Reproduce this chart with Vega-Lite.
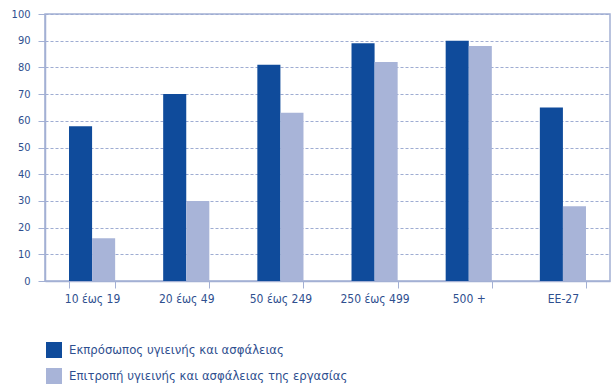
{
  "$schema": "https://vega.github.io/schema/vega-lite/v6.json",
  "width": 565,
  "height": 267,
  "autosize": {"type": "none"},
  "padding": {"left": 45, "top": 14, "right": 3, "bottom": 110},
  "background": "#ffffff",
  "config": {
    "view": {"stroke": "#a3b0d4", "strokeWidth": 1.5},
    "font": "Liberation Sans Narrow, DejaVu Sans Condensed, sans-serif"
  },
  "data": {
    "values": [
      {"size": "10 έως 19", "series": "Εκπρόσωπος υγιεινής και ασφάλειας", "value": 58},
      {"size": "10 έως 19", "series": "Επιτροπή υγιεινής και ασφάλειας της εργασίας", "value": 16},
      {"size": "20 έως 49", "series": "Εκπρόσωπος υγιεινής και ασφάλειας", "value": 70},
      {"size": "20 έως 49", "series": "Επιτροπή υγιεινής και ασφάλειας της εργασίας", "value": 30},
      {"size": "50 έως 249", "series": "Εκπρόσωπος υγιεινής και ασφάλειας", "value": 81},
      {"size": "50 έως 249", "series": "Επιτροπή υγιεινής και ασφάλειας της εργασίας", "value": 63},
      {"size": "250 έως 499", "series": "Εκπρόσωπος υγιεινής και ασφάλειας", "value": 89},
      {"size": "250 έως 499", "series": "Επιτροπή υγιεινής και ασφάλειας της εργασίας", "value": 82},
      {"size": "500 +", "series": "Εκπρόσωπος υγιεινής και ασφάλειας", "value": 90},
      {"size": "500 +", "series": "Επιτροπή υγιεινής και ασφάλειας της εργασίας", "value": 88},
      {"size": "ΕΕ-27", "series": "Εκπρόσωπος υγιεινής και ασφάλειας", "value": 65},
      {"size": "ΕΕ-27", "series": "Επιτροπή υγιεινής και ασφάλειας της εργασίας", "value": 28}
    ]
  },
  "mark": {"type": "bar"},
  "encoding": {
    "x": {
      "field": "size",
      "type": "nominal",
      "sort": null,
      "scale": {"paddingInner": 0.51, "paddingOuter": 0.255},
      "axis": {
        "title": null,
        "labelAngle": 0,
        "labelFontSize": 12,
        "labelColor": "#2f4f8f",
        "labelPadding": 5,
        "domainColor": "#a3b0d4",
        "domainWidth": 1.5,
        "tickColor": "#a3b0d4",
        "tickSize": 7,
        "tickWidth": 1,
        "tickBand": "extent",
        "grid": false
      }
    },
    "xOffset": {
      "field": "series",
      "type": "nominal",
      "scale": {"paddingInner": 0, "paddingOuter": 0}
    },
    "y": {
      "field": "value",
      "type": "quantitative",
      "scale": {"domain": [0, 100], "nice": false},
      "axis": {
        "title": null,
        "values": [0, 10, 20, 30, 40, 50, 60, 70, 80, 90, 100],
        "labelFontSize": 11,
        "labelColor": "#2f4f8f",
        "labelPadding": 8,
        "domainColor": "#a3b0d4",
        "domainWidth": 1.5,
        "tickColor": "#a3b0d4",
        "tickSize": 7,
        "grid": true,
        "gridColor": "#9eacd2",
        "gridDash": [3, 2],
        "gridWidth": 1.2
      }
    },
    "color": {
      "field": "series",
      "type": "nominal",
      "scale": {
        "domain": ["Εκπρόσωπος υγιεινής και ασφάλειας", "Επιτροπή υγιεινής και ασφάλειας της εργασίας"],
        "range": ["#0f4b9b", "#a8b4d8"]
      },
      "legend": {
        "title": null,
        "orient": "none",
        "legendX": 1,
        "legendY": 328,
        "padding": 0,
        "symbolType": "square",
        "symbolSize": 256,
        "symbolStrokeWidth": 0,
        "symbolOffset": 0,
        "labelOffset": 7,
        "labelFontSize": 13,
        "labelColor": "#2f4f8f",
        "rowPadding": 10,
        "labelLimit": 500
      }
    }
  }
}
